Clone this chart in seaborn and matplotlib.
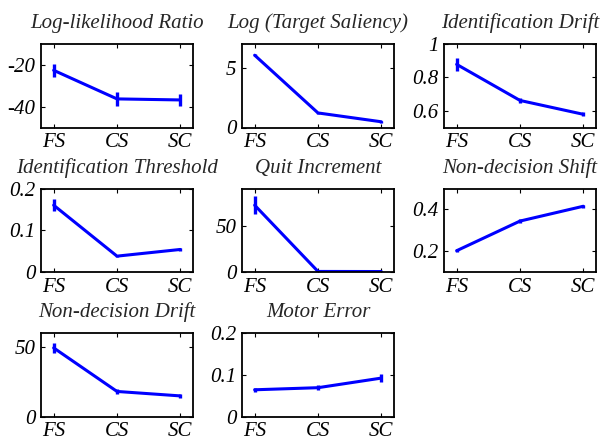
import matplotlib
matplotlib.use("Agg")
import matplotlib.pyplot as plt
import seaborn as sns
import pandas as pd
from matplotlib.ticker import FuncFormatter

conditions = ["FS", "CS", "SC"]

titles = ["Log-likelihood Ratio", "Log (Target Saliency)", "Identification Drift",
          "Identification Threshold", "Quit Increment", "Non-decision Shift",
          "Non-decision Drift", "Motor Error"]

llr_mean = [-22.6, -36.3, -36.8]
llr_err = [3.0, 3.2, 3.0]
sal_mean = [6.06, 1.22, 0.48]
sal_err = [0.08, 0.12, 0.08]
idd_mean = [0.878, 0.662, 0.579]
idd_err = [0.04, 0.016, 0.012]
idt_mean = [0.160, 0.038, 0.054]
idt_err = [0.014, 0.002, 0.004]
quit_mean = [72.0, 0.6, 0.5]
quit_err = [10.0, 0.5, 0.5]
nds_mean = [0.202, 0.344, 0.415]
nds_err = [0.006, 0.01, 0.008]
ndd_mean = [49.3, 18.0, 14.8]
ndd_err = [3.5, 1.8, 1.2]
mot_mean = [0.064, 0.069, 0.092]
mot_err = [0.005, 0.006, 0.009]

means = [llr_mean, sal_mean, idd_mean, idt_mean, quit_mean, nds_mean, ndd_mean, mot_mean]
errs = [llr_err, sal_err, idd_err, idt_err, quit_err, nds_err, ndd_err, mot_err]
ylims = [(-50, -10), (0, 7), (0.5, 1.0), (0, 0.2), (0, 90), (0.1, 0.5), (0, 60), (0, 0.2)]
yticks = [[-40, -20], [0, 5], [0.6, 0.8, 1.0], [0, 0.1, 0.2], [0, 50], [0.2, 0.4], [0, 50], [0, 0.1, 0.2]]

sns.set_theme(style="ticks")
plt.rcParams["font.family"] = ["Liberation Serif", "DejaVu Serif"]
plt.rcParams["font.style"] = "italic"
plt.rcParams["axes.unicode_minus"] = False

fig = plt.figure(figsize=(6.04, 4.37), dpi=100)
W, H = 604, 437
lefts = [41, 242, 444]
tops = [44, 188.5, 333]
aw, ah = 152, 83.5

blue = (0, 0, 1)
for i in range(8):
    r, c = divmod(i, 3)
    ax = fig.add_axes([lefts[c] / W, 1 - (tops[r] + ah) / H, aw / W, ah / H])
    df = pd.DataFrame({"x": [0, 1, 2], "y": means[i]})
    sns.lineplot(data=df, x="x", y="y", ax=ax, color=blue, linewidth=2.2)
    ax.errorbar(df["x"], df["y"], yerr=errs[i], fmt="none", ecolor=blue,
                elinewidth=2.4, capsize=0)
    ax.set_xlim(-0.2, 2.2)
    ax.set_ylim(*ylims[i])
    ax.set_xticks([0, 1, 2])
    ax.set_xticklabels(conditions)
    ax.set_yticks(yticks[i])
    ax.yaxis.set_major_formatter(FuncFormatter(lambda v, p: ("%g" % round(v, 3))))
    ax.set_xlabel("")
    ax.set_ylabel("")
    ax.set_title(titles[i], fontsize=15, style="italic", pad=11.5)
    ax.tick_params(direction="in", length=3, width=0.8, labelsize=15,
                   top=True, right=True, colors="black", pad=4)
    for sp in ax.spines.values():
        sp.set_visible(True)
        sp.set_linewidth(1.3)
        sp.set_color("black")
    for lbl in ax.get_xticklabels() + ax.get_yticklabels():
        lbl.set_fontstyle("italic")

fig.savefig("out.png", dpi=100)
